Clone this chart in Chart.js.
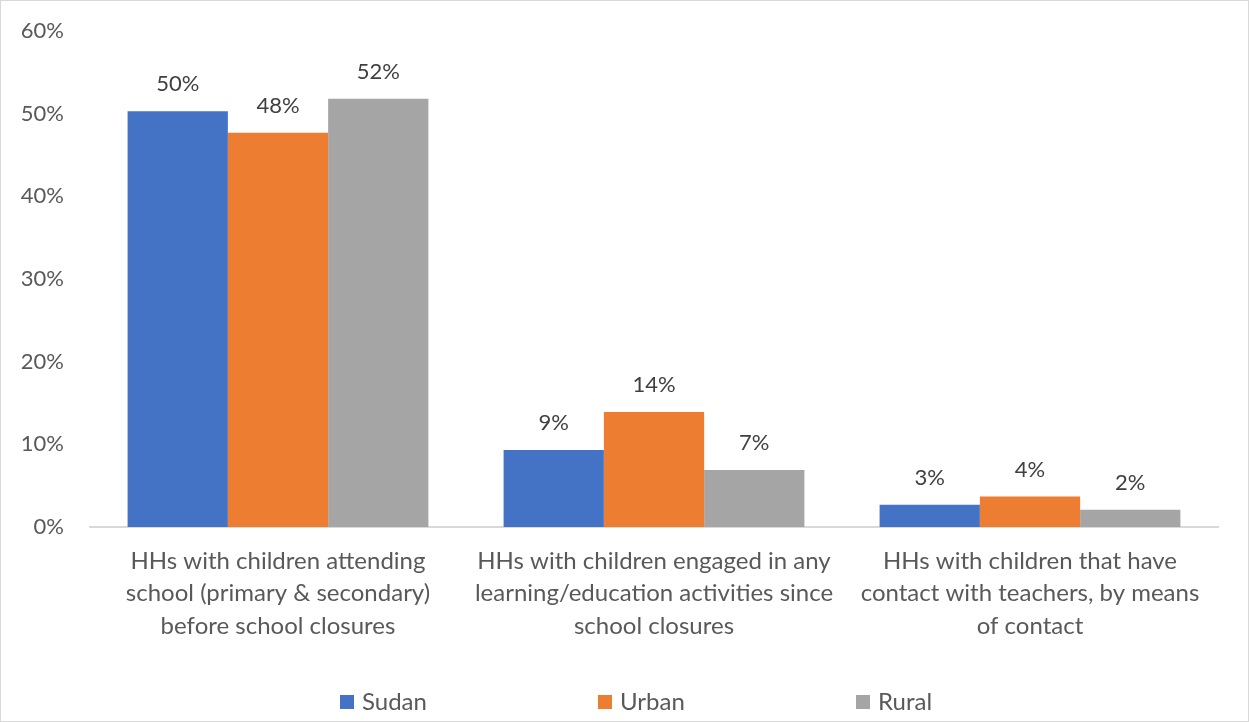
<!DOCTYPE html>
<html>
<head>
<meta charset="utf-8">
<script src="https://cdn.jsdelivr.net/npm/chart.js@4/dist/chart.umd.min.js"></script>
<style>
html,body{margin:0;padding:0;background:#fff;}
#wrap{position:relative;width:1249px;height:722px;box-sizing:border-box;border:1px solid #d9d9d9;}
canvas{display:block;}
</style>
</head>
<body>
<div id="wrap"><canvas id="c" width="1247" height="720"></canvas></div>
<script>
const categories = [
  ["HHs with children attending", "school (primary & secondary)", "before school closures"],
  ["HHs with children engaged in any", "learning/education activities since", "school closures"],
  ["HHs with children that have", "contact with teachers, by means", "of contact"]
];
const seriesNames = ["Sudan", "Urban", "Rural"];
const sudanValues = [50.3, 9.3, 2.7];
const urbanValues = [47.7, 13.9, 3.7];
const ruralValues = [51.8, 6.9, 2.1];
const seriesColors = ["#4472C4", "#ED7D31", "#A5A5A5"];
const yTicks = [0, 10, 20, 30, 40, 50, 60];

const FONT = "Lato, 'Open Sans', sans-serif";
const TEXT = "#595959";

const dataLabels = {
  id: "dataLabels",
  afterDatasetsDraw(chart) {
    const ctx = chart.ctx;
    ctx.save();
    ctx.font = "22px " + FONT;
    ctx.fillStyle = "#404040";
    ctx.textAlign = "center";
    ctx.textBaseline = "middle";
    chart.data.datasets.forEach((ds, i) => {
      const meta = chart.getDatasetMeta(i);
      meta.data.forEach((bar, j) => {
        ctx.fillText(Math.round(ds.data[j]) + "%", bar.x, bar.y - 27);
      });
    });
    ctx.restore();
  }
};

// Bottom legend drawn from the chart's datasets (wide Excel-style spacing)
const wideLegend = {
  id: "wideLegend",
  afterDraw(chart) {
    const ctx = chart.ctx;
    ctx.save();
    ctx.font = "24px " + FONT;
    ctx.textBaseline = "middle";
    ctx.textAlign = "left";
    const step = 258, box = 14, gap = 8, yc = 701;
    const startX = 339;
    chart.data.datasets.forEach((ds, i) => {
      const x = startX + i * step;
      ctx.fillStyle = ds.backgroundColor;
      ctx.fillRect(x, yc - box / 2, box, box);
      ctx.fillStyle = TEXT;
      ctx.fillText(ds.label, x + box + gap, yc);
    });
    ctx.restore();
  }
};

new Chart(document.getElementById("c"), {
  type: "bar",
  data: {
    labels: categories,
    datasets: [
      { label: seriesNames[0], data: sudanValues, backgroundColor: seriesColors[0] },
      { label: seriesNames[1], data: urbanValues, backgroundColor: seriesColors[1] },
      { label: seriesNames[2], data: ruralValues, backgroundColor: seriesColors[2] }
    ]
  },
  options: {
    responsive: false,
    animation: false,
    layout: { padding: { left: 0, right: 30, top: 30, bottom: 0 } },
    datasets: { bar: { categoryPercentage: 0.8, barPercentage: 1.0 } },
    plugins: {
      tooltip: { enabled: false },
      legend: { display: false }
    },
    scales: {
      x: {
        afterFit(scale) { scale.height = 194; },
        grid: { display: false, drawTicks: false },
        border: { color: "#d9d9d9", width: 2 },
        ticks: { color: TEXT, font: { family: FONT, size: 24, lineHeight: 1.35 }, padding: 18, maxRotation: 0, autoSkip: false }
      },
      y: {
        min: 0, max: 60,
        afterBuildTicks(axis) { axis.ticks = yTicks.map(v => ({ value: v })); },
        afterFit(scale) { scale.width = 89; scale.paddingTop = 0; scale.paddingBottom = 0; },
        grid: { display: false, drawTicks: false },
        border: { display: false },
        ticks: { color: TEXT, font: { family: FONT, size: 22 }, padding: 26, callback: v => v + "%" }
      }
    }
  },
  plugins: [dataLabels, wideLegend]
});
</script>
</body>
</html>
